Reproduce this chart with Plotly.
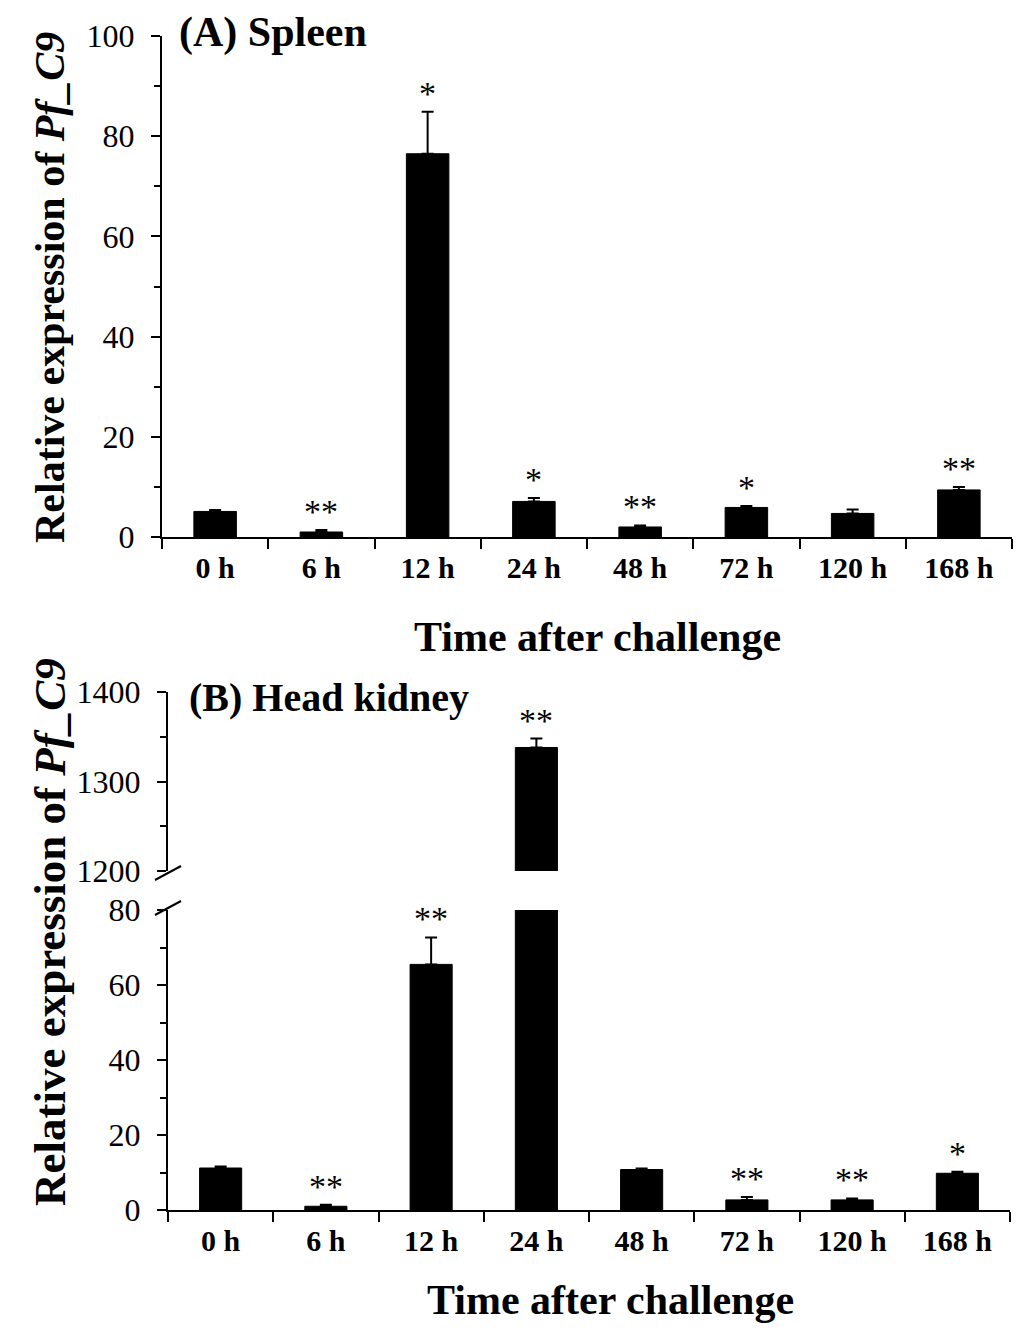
import plotly.graph_objects as go

# Relative expression of Pf_C9 after challenge
times = ['0 h', '6 h', '12 h', '24 h', '48 h', '72 h', '120 h', '168 h']

spleen_mean = [5.1, 1.0, 76.5, 7.1, 2.0, 5.9, 4.7, 9.4]
spleen_err = [0.3, 0.4, 8.4, 0.7, 0.3, 0.3, 0.8, 0.6]
spleen_sig = ['', '**', '*', '*', '**', '*', '', '**']

kidney_mean = [11.2, 1.0, 65.5, 1338, 10.8, 2.7, 2.7, 9.8]
kidney_err = [0.4, 0.4, 7.2, 10, 0.3, 0.8, 0.4, 0.4]
kidney_sig = ['', '**', '**', '**', '', '**', '**', '*']

FONT = 'Liberation Serif'
W, H = 1024.0, 1333.0
OFF = 8  # page margin around the plot div


def px(x):
    return (x - OFF) / W


def py(y):
    return 1 - (y - OFF) / H


def bars(y, err, xa, ya):
    return go.Bar(x=times, y=y, xaxis=xa, yaxis=ya, width=0.4,
                  marker=dict(color='black', line=dict(color='black', width=1)),
                  error_y=dict(type='data', symmetric=False, array=err,
                               arrayminus=[0] * len(err), color='black',
                               thickness=2, width=6),
                  showlegend=False)


fig = go.Figure()
fig.add_trace(bars(spleen_mean, spleen_err, 'x', 'y'))
fig.add_trace(bars(kidney_mean, kidney_err, 'x2', 'y2'))
fig.add_trace(bars(kidney_mean, kidney_err, 'x3', 'y3'))

xcommon = dict(type='category', range=[-0.5, 7.5], showline=True, linecolor='black',
               linewidth=2, ticks='outside', tickson='boundaries', ticklen=10,
               tickwidth=2, tickcolor='black', tickvals=times,
               ticktext=['<b>%s</b>' % t for t in times], automargin=False,
               ticklabelstandoff=3,
               tickfont=dict(family=FONT, size=30, color='black'), fixedrange=True)
ycommon = dict(showline=True, linecolor='black', linewidth=2, ticks='outside',
               ticklen=9, tickwidth=2, tickcolor='black', showgrid=False,
               zeroline=False, automargin=False, ticklabelstandoff=10,
               tickfont=dict(family=FONT, size=32, color='black'))
minor = dict(ticks='outside', ticklen=6, tickwidth=2, tickcolor='black')

fig.update_layout(
    width=1024, height=1333, plot_bgcolor='white', paper_bgcolor='white',
    margin=dict(l=0, r=0, t=0, b=0), bargap=0.6,
    xaxis=dict(xcommon, domain=[px(162), px(1012)], anchor='y'),
    yaxis=dict(ycommon, domain=[py(537), py(36)], range=[0, 100], dtick=20,
               minor=dict(minor, dtick=10), anchor='x'),
    xaxis2=dict(domain=[px(168), px(1010)], anchor='y2', type='category',
                range=[-0.5, 7.5], showline=False, showticklabels=False,
                showgrid=False, ticks='', automargin=False),
    yaxis2=dict(ycommon, domain=[py(871), py(692)], range=[1200, 1400], dtick=100,
                minor=dict(minor, dtick=50), anchor='x2'),
    xaxis3=dict(xcommon, domain=[px(168), px(1010)], anchor='y3'),
    yaxis3=dict(ycommon, domain=[py(1210), py(910)], range=[0, 80], dtick=20,
                minor=dict(minor, dtick=10), anchor='x3'),
)

# significance stars
star_font = dict(family=FONT, size=34, color='black')
for t, m, e, s in zip(times, spleen_mean, spleen_err, spleen_sig):
    if s:
        fig.add_annotation(x=t, y=m + e, xref='x', yref='y', text=s, showarrow=False,
                           xanchor='center', yanchor='bottom', yshift=-2, font=star_font)
for t, m, e, s in zip(times, kidney_mean, kidney_err, kidney_sig):
    if s:
        ax = ('x2', 'y2') if m + e > 80 else ('x3', 'y3')
        fig.add_annotation(x=t, y=m + e, xref=ax[0], yref=ax[1], text=s, showarrow=False,
                           xanchor='center', yanchor='bottom', yshift=-2, font=star_font)

title_font = dict(family=FONT, size=42, color='black')
# panel labels
fig.add_annotation(x=px(177), y=py(33), xref='paper', yref='paper', text='<b>(A) Spleen</b>',
                   showarrow=False, xanchor='left', yanchor='middle', font=title_font)
fig.add_annotation(x=px(187), y=py(697), xref='paper', yref='paper', text='<b>(B) Head kidney</b>',
                   showarrow=False, xanchor='left', yanchor='middle',
                   font=dict(title_font, size=40))
# axis titles
ytitle = '<b>Relative expression of <i>Pf_C9</i></b>'
fig.add_annotation(x=px(50), y=py(288), xref='paper', yref='paper', text=ytitle,
                   textangle=-90, showarrow=False, xanchor='center', yanchor='middle',
                   font=title_font)
fig.add_annotation(x=px(50), y=py(932), xref='paper', yref='paper', text=ytitle,
                   textangle=-90, showarrow=False, xanchor='center', yanchor='middle',
                   font=dict(title_font, size=45))
for xc, yc in ((597, 637), (610, 1300)):
    fig.add_annotation(x=px(xc), y=py(yc), xref='paper', yref='paper',
                       text='<b>Time after challenge</b>', showarrow=False,
                       xanchor='center', yanchor='middle', font=title_font)

# axis break marks
for yc in (873, 908):
    fig.add_shape(type='line', xref='paper', yref='paper', x0=px(155), x1=px(181),
                  y0=py(yc + 7), y1=py(yc - 7), line=dict(color='black', width=2))

fig.write_html('out.html')
